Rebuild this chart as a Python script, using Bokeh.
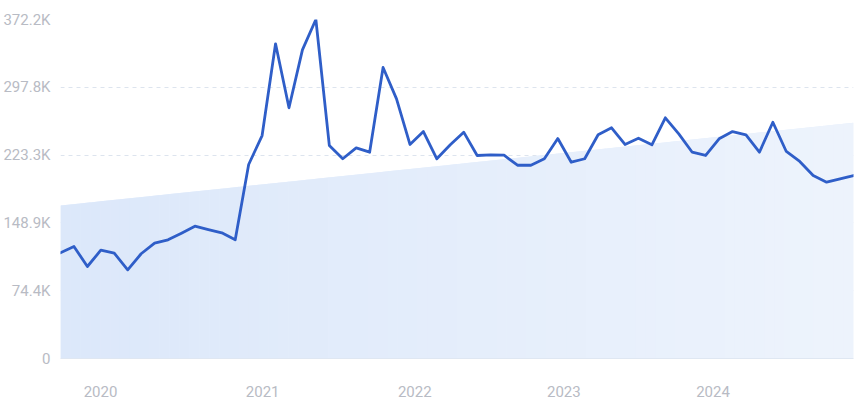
import numpy as np
from bokeh.plotting import figure
from bokeh.models import FixedTicker, Range1d
from bokeh.embed import file_html
from bokeh.resources import INLINE

# ---- data ----
values = [116100, 123000, 101000, 118900, 115600, 97400, 115000, 126600, 130300, 137600,
          145300, 141600, 138000, 130300, 213000, 244800, 345500, 275300, 338900, 372200,
          233900, 219300, 231300, 226500, 319500, 285100, 235000, 249200, 219300, 234600,
          248500, 222900, 223600, 223200, 212200, 212200, 219300, 241500, 215500, 219300,
          245600, 253300, 235000, 241900, 234600, 264300, 246700, 226500, 222900, 241200,
          249200, 245600, 226500, 259400, 227300, 216300, 200900, 193600, 197300, 200900]
trend_start = 168000
trend_end = 258800

year_positions = [2.98, 15.04, 26.36, 37.45, 48.55]
year_labels = ["2020", "2021", "2022", "2023", "2024"]

y_ticks = [0, 74440, 148880, 223320, 297760, 372200]
y_labels = ["0", "74.4K", "148.9K", "223.3K", "297.8K", "372.2K"]

# ---- figure ----
n = len(values)
x = list(range(n))

p = figure(frame_width=793, frame_height=339,
           min_border_left=60, min_border_right=3, min_border_top=19, min_border_bottom=42,
           x_range=Range1d(0, n - 1), y_range=Range1d(0, max(y_ticks)),
           output_backend="svg", toolbar_location=None,
           background_fill_color="white", border_fill_color="white")
p.outline_line_color = None

# trend area with a horizontal gradient built from strips
def hex_to_rgb(h):
    h = h.lstrip("#")
    return tuple(int(h[i:i + 2], 16) for i in (0, 2, 4))

c0 = np.array(hex_to_rgb("#dce8fa"))
c1 = np.array(hex_to_rgb("#eef4fd"))
slope = (trend_end - trend_start) / (n - 1)
p.varea(x=[0, n - 1], y1=[0, 0], y2=[trend_start, trend_end], fill_color="#e6effc", fill_alpha=1)
xs, ys, cols = [], [], []
steps = 80
edges = np.linspace(0, n - 1, steps + 1)
for i in range(steps):
    a, b = edges[i], min(edges[i + 1] + 0.02, n - 1)
    xs.append([a, b, b, a])
    ys.append([0, 0, trend_start + slope * b, trend_start + slope * a])
    t = (i + 0.5) / steps
    c = (c0 * (1 - t) + c1 * t).astype(int)
    cols.append("#%02x%02x%02x" % tuple(c))
p.patches(xs=xs, ys=ys, fill_color=cols, line_color=None)

# main line
p.line(x, values, line_color="#2f5ec8", line_width=2.8, line_join="round", line_cap="round")

# axes
font = "Roboto"
lab_col = "#b8bbc4"
p.yaxis.ticker = FixedTicker(ticks=y_ticks)
p.yaxis.major_label_overrides = {t: l for t, l in zip(y_ticks, y_labels)}
p.yaxis.axis_line_color = None
p.yaxis.major_tick_line_color = None
p.yaxis.minor_tick_line_color = None
p.yaxis.major_label_standoff = 4
p.yaxis.major_label_text_font = font
p.yaxis.major_label_text_font_size = "15px"
p.yaxis.major_label_text_color = lab_col

p.xaxis.ticker = FixedTicker(ticks=year_positions)
p.xaxis.major_label_overrides = {t: l for t, l in zip(year_positions, year_labels)}
p.xaxis.axis_line_color = "#dfe7f2"
p.xaxis.axis_line_width = 1
p.xaxis.major_tick_line_color = None
p.xaxis.minor_tick_line_color = None
p.xaxis.major_label_standoff = 21
p.xaxis.major_label_text_font = font
p.xaxis.major_label_text_font_size = "15px"
p.xaxis.major_label_text_color = lab_col

p.xgrid.visible = False
p.ygrid.ticker = FixedTicker(ticks=y_ticks[1:])
p.ygrid.grid_line_color = "#dde4ee"
p.ygrid.grid_line_dash = "4 4"
p.ygrid.grid_line_width = 1

open("out.html", "w").write(file_html(p, INLINE))
